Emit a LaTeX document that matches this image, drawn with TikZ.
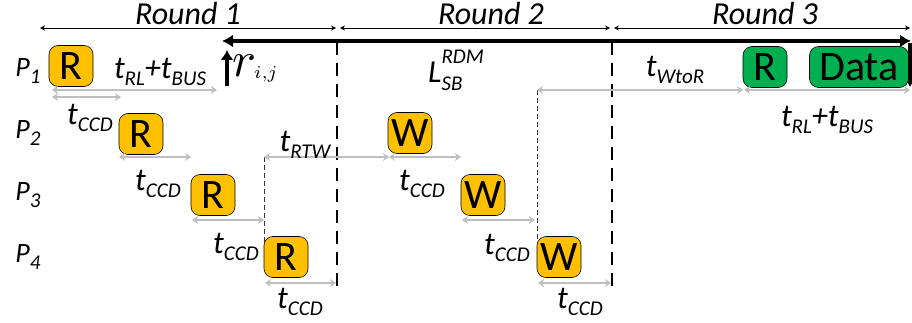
\documentclass[tikz,border=0pt]{standalone}
\usepackage{fontspec}
\setmainfont{Carlito}
\usetikzlibrary{arrows.meta,positioning}
\definecolor{cmdorange}{HTML}{FFC000}
\definecolor{cmdgreen}{HTML}{00B050}
\definecolor{tgray}{HTML}{BFBFBF}
% lowered / raised indices in the label font
\newcommand{\dn}[1]{\raisebox{-0.5ex}{\fontsize{21}{21}\selectfont #1}}
\newcommand{\up}[1]{\raisebox{1.25ex}{\fontsize{21}{21}\selectfont #1}}

\begin{document}
\begin{tikzpicture}[x=1pt,y=-1pt,
	cmd/.style={draw=black,line width=0.6pt,rounded corners=9pt,minimum width=44pt,minimum height=41pt,inner sep=0pt,font=\fontsize{42}{42}\selectfont},
	rdcmd/.style={cmd,fill=cmdorange},
	wrcmd/.style={cmd,fill=cmdorange},
	grcmd/.style={cmd,fill=cmdgreen},
	tarr/.style={draw=tgray,line width=2.8pt,{Stealth[length=6pt,width=8pt]}-{Stealth[length=6pt,width=8pt]}},
	lbl/.style={font=\fontsize{32}{32}\selectfont\itshape,inner sep=0pt},
	plbl/.style={font=\fontsize{28}{28}\selectfont\itshape,inner sep=0pt},
	rarr/.style={draw=black,line width=0.8pt,{Stealth[length=5pt,width=5pt]}-{Stealth[length=5pt,width=5pt]}},
	bigdash/.style={draw=black,line width=2pt,dash pattern=on 13pt off 8pt},
	smalldash/.style={draw=black!80,line width=0.8pt,dash pattern=on 5pt off 3pt}]
	\useasboundingbox (0,0) rectangle (912,323);
	
	% rounds
	\node[lbl] (rnd1) at (188,14) {Round 1};
	\node[lbl] (rnd2) at (491,14) {Round 2};
	\node[lbl] (rnd3) at (765,14) {Round 3};
	\coordinate (a1) at (40,28); \coordinate (b1) at (336,28);
	\coordinate (a2) at (340,28); \coordinate (b2) at (610,28);
	\coordinate (a3) at (614,28); \coordinate (b3) at (910,28);
	\draw[rarr] (a1) -- (b1);
	\draw[rarr] (a2) -- (b2);
	\draw[rarr] (a3) -- (b3);
	
	% bank timeline and round borders
	\coordinate (tl0) at (222,41); \coordinate (tl1) at (911,41);
	\draw[line width=4pt,{Latex[length=11pt,width=13pt]}-{Latex[length=11pt,width=13pt]}] (tl0) -- (tl1);
	\coordinate (ra) at (227,86); \coordinate (rb) at (227,50);
	\draw[line width=4pt,-{Latex[length=10pt,width=13pt]}] (ra) -- (rb);
	\coordinate (da) at (910,43); \coordinate (db) at (910,87);
	\draw[line width=4pt,-{Latex[length=8pt,width=11pt]}] (da) -- (db);
	\coordinate (d1a) at (337,42); \coordinate (d1b) at (337,287);
	\coordinate (d2a) at (612,42); \coordinate (d2b) at (612,287);
	\draw[bigdash] (d1a) -- (d1b);
	\draw[bigdash] (d2a) -- (d2b);
	\coordinate (s1a) at (264,157); \coordinate (s1b) at (264,242);
	\coordinate (s2a) at (537,90); \coordinate (s2b) at (537,242);
	\draw[smalldash] (s1a) -- (s1b);
	\draw[smalldash] (s2a) -- (s2b);
	
	% requestors
	\node[plbl] (p1) at (28,71) {P\dn{1}};
	\node[plbl] (p2) at (28,133) {P\dn{2}};
	\node[plbl] (p3) at (28,195) {P\dn{3}};
	\node[plbl] (p4) at (28,257) {P\dn{4}};
	
	% commands
	\node[rdcmd] (r1) at (71,66) {R};
	\node[rdcmd] (r2) at (141,134) {R};
	\node[rdcmd] (r3) at (213,195) {R};
	\node[rdcmd] (r4) at (286,257) {R};
	\node[wrcmd] (w1) at (410,133) {W};
	\node[wrcmd] (w2) at (483,195) {W};
	\node[wrcmd] (w3) at (559,257) {W};
	\node[grcmd] (r5) at (765,67) {R};
	\node[grcmd,minimum width=99pt] (data) at (859,67) {Data};
	
	% timing constraints
	\coordinate (c0a) at (52,90); \coordinate (c0b) at (217,90);
	\coordinate (c1a) at (52,97); \coordinate (c1b) at (121,97);
	\coordinate (c2a) at (119,157); \coordinate (c2b) at (191,157);
	\coordinate (c3a) at (192,220); \coordinate (c3b) at (264,220);
	\coordinate (c4a) at (265,283); \coordinate (c4b) at (336,283);
	\coordinate (c5a) at (264,157); \coordinate (c5b) at (389,157);
	\coordinate (c6a) at (389,157); \coordinate (c6b) at (461,157);
	\coordinate (c7a) at (462,220); \coordinate (c7b) at (535,220);
	\coordinate (c8a) at (538,283); \coordinate (c8b) at (611,283);
	\coordinate (c9a) at (537,90); \coordinate (c9b) at (743,90);
	\coordinate (c10a) at (744,90); \coordinate (c10b) at (910,90);
	\draw[tarr] (c0a) -- (c0b);
	\draw[tarr] (c1a) -- (c1b);
	\draw[tarr] (c2a) -- (c2b);
	\draw[tarr] (c3a) -- (c3b);
	\draw[tarr] (c4a) -- (c4b);
	\draw[tarr] (c5a) -- (c5b);
	\draw[tarr] (c6a) -- (c6b);
	\draw[tarr] (c7a) -- (c7b);
	\draw[tarr] (c8a) -- (c8b);
	\draw[tarr] (c9a) -- (c9b);
	\draw[tarr] (c10a) -- (c10b);
	
	\node[lbl] (trl1) at (160,72) {t\dn{RL}+t\dn{BUS}};
	\node[lbl] (tccd1) at (90,118) {t\dn{CCD}};
	\node[lbl] (tccd2) at (158,184) {t\dn{CCD}};
	\node[lbl] (tccd3) at (236,247) {t\dn{CCD}};
	\node[lbl] (tccd4) at (300,302) {t\dn{CCD}};
	\node[lbl] (trtw) at (305,145) {t\dn{RTW}};
	\node[lbl] (tccd5) at (422,184) {t\dn{CCD}};
	\node[lbl] (tccd6) at (507,248) {t\dn{CCD}};
	\node[lbl] (tccd7) at (580,302) {t\dn{CCD}};
	\node[lbl] (twtor) at (675,70) {t\dn{WtoR}};
	\node[lbl] (trl2) at (827,120) {t\dn{RL}+t\dn{BUS}};
	\node[lbl] (lsb) at (456,70) {L\rlap{\dn{SB}}\up{RDM}};
	\node[inner sep=0pt,anchor=west] (rij) at (232,66) {\scalebox{5}{$r$}\kern-2pt\smash{\raisebox{-2pt}{\scalebox{2.6}{$\scriptstyle i,j$}}}};
\end{tikzpicture}
\end{document}
